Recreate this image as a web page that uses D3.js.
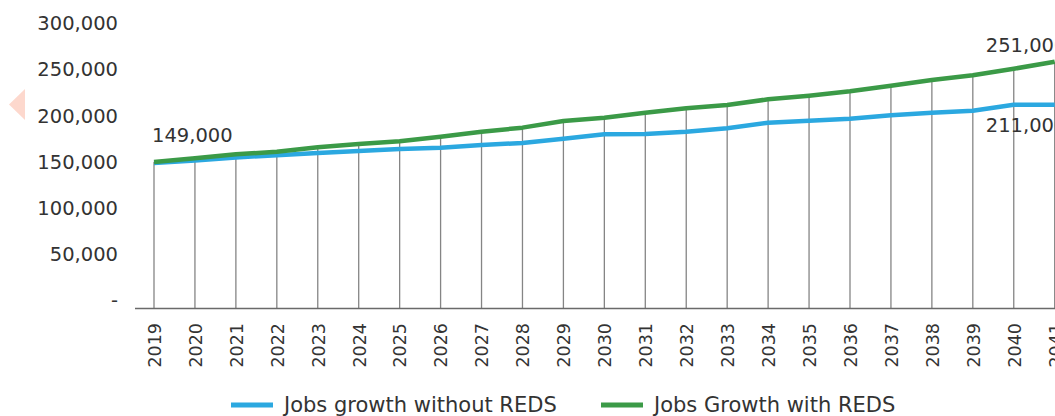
<!DOCTYPE html>
<html>
<head>
<meta charset="utf-8">
<script src="https://cdn.jsdelivr.net/npm/d3@7"></script>
<style>
  body { margin: 0; background: #fff; overflow: hidden; }
  svg { display: block; }
  svg text { font-family: "DejaVu Sans", sans-serif; }
</style>
</head>
<body>
<svg id="chart" width="1055" height="416"></svg>
<script>
// data (jobs, thousands -> units below)
const years = [2019, 2020, 2021, 2022, 2023, 2024, 2025, 2026, 2027, 2028, 2029, 2030,
  2031, 2032, 2033, 2034, 2035, 2036, 2037, 2038, 2039, 2040, 2041]
const withoutReds = [149, 151.5, 155, 157.3, 159.8, 162, 164, 165.5, 168.4, 170.6, 175.2, 180,
  180.3, 182.8, 186.5, 192.6, 194.7, 196.9, 200.6, 203.4, 205.6, 212, 212].map(v => v * 1000)
const withReds = [150, 154, 158.3, 161.2, 165.9, 169.5, 172.4, 177.4, 182.8, 187.2, 194.4, 198,
  203.4, 208.2, 211.7, 217.9, 221.8, 226.6, 232.6, 238.8, 243.9, 251, 258.6].map(v => v * 1000)
const yTicks = [0, 50000, 100000, 150000, 200000, 250000, 300000]
const seriesNames = ["Jobs growth without REDS", "Jobs Growth with REDS"]
const seriesColors = ["#2ba8e0", "#3b9a47"]
// point labels: [series index, year, text]
const pointLabels = [[1, 2019, "149,000"], [1, 2040, "251,000"], [0, 2040, "211,000"]]

const svg = d3.select("#chart")
const textColor = "#333"
const font = "'DejaVu Sans', sans-serif"

const x = d3.scalePoint()
    .domain(years)
    .range([154, 1054.7])
const y = d3.scaleLinear()
    .domain([0, 300000])
    .range([300.5, 23.5])
const axisY0 = y(0) + 7.5

// little pink nav arrow on the left edge
svg.append("path")
    .attr("d", "M9,104.5 L25,89 L25,120 Z")
    .attr("fill", "#fdd8cd")

// y axis labels only
const axisLeft = svg.append("g")
    .attr("transform", "translate(118,0)")
    .call(d3.axisLeft(y).tickValues(yTicks).tickSize(0).tickPadding(0)
        .tickFormat(d => d === 0 ? "-" : d3.format(",")(d)))
axisLeft.attr("font-family", null).attr("font-size", null)
axisLeft.select(".domain").remove()
axisLeft.selectAll("text")
    .style("font-size", "19.5px")
    .style("font-family", font)
    .style("fill", textColor)

// drop lines from top series down to the axis
svg.append("g")
    .selectAll("line")
    .data(years)
    .join("line")
    .attr("x1", d => x(d))
    .attr("x2", d => x(d))
    .attr("y1", (d, i) => y(Math.max(withReds[i], withoutReds[i])))
    .attr("y2", axisY0)
    .attr("stroke", "#858585")
    .attr("stroke-width", 1.3)

// x axis
const axisX = svg.append("g")
    .attr("transform", `translate(0, ${axisY0})`)
    .call(d3.axisBottom(x).tickSize(0).tickFormat(d => String(d)))
axisX.attr("font-family", null).attr("font-size", null)
axisX.select(".domain")
    .attr("d", `M135,0.5H1060`)
    .attr("stroke", "#6a6a6a")
    .attr("stroke-width", 1.4)
axisX.selectAll("text")
    .attr("transform", "rotate(-90)")
    .attr("x", -15)
    .attr("y", 0)
    .attr("dy", "0.36em")
    .attr("text-anchor", "end")
    .style("font-size", "17.5px")
    .style("font-family", font)
    .style("fill", textColor)

// the two lines
const line = d3.line()
    .x((d, i) => x(years[i]))
    .y(d => y(d))
const allSeries = [withoutReds, withReds]
svg.append("g")
    .selectAll("path")
    .data(allSeries)
    .join("path")
    .attr("d", d => line(d))
    .attr("fill", "none")
    .attr("stroke", (d, i) => seriesColors[i])
    .attr("stroke-width", 4.5)
    .attr("stroke-linejoin", "round")

// data labels
svg.append("g")
    .selectAll("text")
    .data(pointLabels)
    .join("text")
    .attr("x", d => x(d[1]) - (d[1] === 2019 ? 2 : 28))
    .attr("y", d => {
        const v = allSeries[d[0]][years.indexOf(d[1])]
        return d[0] === 1 ? y(v) - (d[1] === 2019 ? 27 : 24) : y(v) + 20
    })
    .attr("dy", "0.35em")
    .style("font-size", "19.5px")
    .style("font-family", font)
    .style("fill", textColor)
    .text(d => d[2])

// legend
const legendX = [231, 601]
const legend = svg.append("g")
    .selectAll("g")
    .data(seriesNames)
    .join("g")
    .attr("transform", (d, i) => `translate(${legendX[i]}, 405)`)
legend.append("line")
    .attr("x1", 0)
    .attr("x2", 42)
    .attr("stroke", (d, i) => seriesColors[i])
    .attr("stroke-width", 5)
legend.append("text")
    .attr("x", 53)
    .attr("dy", "0.35em")
    .style("font-size", "21px")
    .style("font-family", font)
    .style("fill", textColor)
    .text(d => d)
</script>
</body>
</html>
